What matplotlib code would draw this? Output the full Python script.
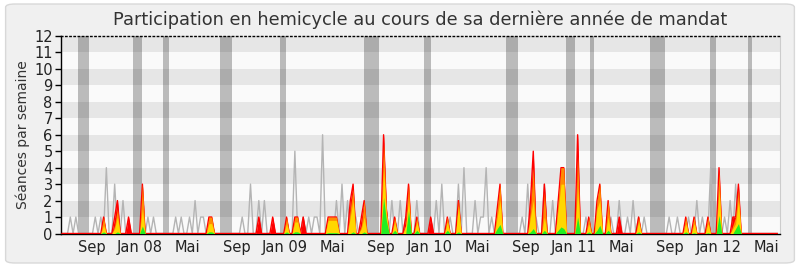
import numpy as np
import matplotlib
matplotlib.use("Agg")
import matplotlib.pyplot as plt
from matplotlib.patches import FancyBboxPatch
import datetime as dt

# ---------------- data ----------------
start_date = dt.date(2007, 6, 18)
n_weeks = 259

# median of all deputies (grey line): week index -> sessions
median_weeks = [3, 5, 12, 14, 16, 19, 22, 31, 33, 41, 43, 46, 48, 50, 51,
                65, 68, 71, 73, 84, 87, 89, 91, 92, 94, 99, 101, 103, 106,
                119, 122, 124, 128, 135, 137, 140, 143, 145, 149, 151, 152, 153, 155,
                166, 168, 171, 174, 177, 189, 191, 198, 201, 204, 206, 208, 210,
                219, 222, 226, 229, 231, 234, 239, 241, 243]
median_vals = [1, 1, 1, 1, 4, 3, 2, 1, 1, 1, 1, 1, 2, 1, 1,
               1, 3, 2, 2, 5, 1, 1, 1, 1, 6, 2, 3, 2, 1,
               2, 2, 1, 2, 2, 3, 1, 3, 4, 2, 1, 1, 4, 1,
               1, 3, 1, 3, 2, 1, 1, 1, 2, 1, 2, 1, 1,
               1, 1, 1, 2, 1, 4, 1, 2, 3]

# deputy activity per week
act_weeks = [15, 19, 20, 24, 29, 53, 54, 71, 76, 81, 84, 85, 87,
             96, 97, 98, 99, 104, 105, 108, 109, 116, 117, 120, 124, 125, 128,
             133, 139, 143, 157, 158, 169, 170, 174, 179, 180, 181, 186, 190,
             193, 194, 197, 201, 208, 225, 228, 233, 237, 242, 243, 244]
presence = [1, 1, 2, 1, 3, 1, 1, 1, 1, 1, 1, 1, 1,
            1, 1, 1, 1, 2, 3, 1, 2, 6, 1.5, 1, 1, 3, 1,
            1, 1, 2, 1.5, 3, 2, 5, 3, 2, 4, 4, 6, 1,
            2, 3, 2, 1, 1, 1, 1, 1, 4, 1, 1, 3]
participation = [1, 0.5, 1.5, 0, 3, 1, 1, 0, 0, 1, 1, 1, 0,
                 1, 1, 1, 1, 1.5, 2.7, 0.5, 2, 5.5, 1.5, 1, 0.5, 3, 1,
                 0, 1, 2, 1.5, 3, 1.5, 4, 2.5, 2, 4, 4, 4.7, 1,
                 2, 3, 2, 0, 1, 1, 1, 1, 3.8, 0.5, 1, 2.7]
interventions = [0.5, 0.3, 1, 0, 1.5, 0.6, 0.6, 0, 0, 0.6, 0.7, 0.7, 0,
                 0.8, 0.8, 0.8, 0.8, 1, 2, 0.3, 1, 4, 1.2, 0.7, 0.5, 2, 0.7,
                 0, 0.7, 1.7, 1, 2, 1, 2, 1, 1.5, 3, 3, 2.8, 0.6,
                 1.5, 2, 1, 0, 0.7, 0.6, 0.6, 0.6, 2.7, 0.3, 0.6, 2]
questions = [0.1, 0, 0.1, 0, 0.45, 0.1, 0.1, 0, 0, 0.1, 0.1, 0.1, 0,
             0.05, 0.05, 0.05, 0.05, 0, 0.1, 0, 0.1, 2.2, 0.8, 0.2, 0, 1.4, 0.2,
             0, 0.2, 0.1, 0.3, 0.55, 0.1, 0.3, 0.2, 0.2, 0.4, 0.3, 1.0, 0.1,
             0.2, 0.5, 0.2, 0, 0.1, 0.1, 0.05, 0.05, 1.1, 0, 0.3, 0.6]

# parliamentary breaks (week ranges)
break_start = [5.8, 25.6, 36.4, 57.0, 78.6, 108.9, 130.6, 160.2, 181.8, 190.5, 212.0, 233.8, 247.5]
break_end   = [9.7, 28.9, 38.6, 61.3, 80.8, 114.4, 133.1, 164.5, 185.0, 192.0, 217.5, 236.0, 249.0]

tick_dates = [dt.date(2007, 9, 1), dt.date(2008, 1, 1), dt.date(2008, 5, 1),
              dt.date(2008, 9, 1), dt.date(2009, 1, 1), dt.date(2009, 5, 1),
              dt.date(2009, 9, 1), dt.date(2010, 1, 1), dt.date(2010, 5, 1),
              dt.date(2010, 9, 1), dt.date(2011, 1, 1), dt.date(2011, 5, 1),
              dt.date(2011, 9, 1), dt.date(2012, 1, 1), dt.date(2012, 5, 1)]
tick_labels = ["Sep", "Jan 08", "Mai", "Sep", "Jan 09", "Mai", "Sep", "Jan 10", "Mai",
               "Sep", "Jan 11", "Mai", "Sep", "Jan 12", "Mai"]

title = "Participation en hemicycle au cours de sa dernière année de mandat"
ylabel = "Séances par semaine"

# ---------------- build series ----------------
x = np.arange(n_weeks)
def series(weeks, vals):
    s = np.zeros(n_weeks)
    s[np.array(weeks)] = vals
    return s

med = series(median_weeks, median_vals)
red = series(act_weeks, presence)
ora = series(act_weeks, participation)
yel = series(act_weeks, interventions)
grn = series(act_weeks, questions)

# ---------------- figure ----------------
fig = plt.figure(figsize=(8, 2.67), dpi=100)
fig.patch.set_facecolor("white")
bg = FancyBboxPatch((0.007, 0.015), 0.986, 0.97, boxstyle="round,pad=0,rounding_size=0.012",
                    transform=fig.transFigure, facecolor="#f0f0f0", edgecolor="#d8d8d8",
                    linewidth=1, zorder=-10)
fig.patches.append(bg)

ax = fig.add_axes([61 / 800, 1 - 233.5 / 267, (780 - 61) / 800, (233.5 - 36) / 267])
ax.set_facecolor("#fafafa")
for lo in range(1, 12, 2):
    ax.axhspan(lo, lo + 1, color="#e6e6e6", lw=0, zorder=0)

for s, e in zip(break_start, break_end):
    ax.axvspan(s, e, color="black", alpha=0.25, lw=0, zorder=1)

ax.plot(x, med, color="#b4b4b4", lw=1, zorder=2)

ax.fill_between(x, 0, red, color="#ff0000", lw=0, zorder=3)
ax.plot(x, red, color="#ff0000", lw=1, zorder=3)
ax.fill_between(x, 0, ora, color="#ff8c00", lw=0, zorder=4)
ax.fill_between(x, 0, yel, color="#ffd700", lw=0, zorder=5)
ax.fill_between(x, 0, grn, color="#22ee22", lw=0, zorder=6)

ax.set_xlim(-0.36, 259.0)
ax.set_ylim(0, 12)
ax.set_yticks(range(0, 13))
ax.tick_params(axis="y", direction="out", length=4, width=1, labelsize=10.5,
               colors="black", labelcolor="#222222", pad=2)
tick_pos = [(d - start_date).days / 7 for d in tick_dates]
ax.set_xticks(tick_pos)
ax.set_xticklabels(tick_labels)
ax.tick_params(axis="x", length=0, labelsize=10.5, labelcolor="#222222", pad=5)

for sp in ["left", "bottom"]:
    ax.spines[sp].set_color("black")
    ax.spines[sp].set_linewidth(1)
ax.spines["top"].set_linestyle((0, (1, 2)))
ax.spines["top"].set_color("black")
ax.spines["top"].set_linewidth(1)
ax.spines["right"].set_color("#cccccc")
ax.spines["right"].set_linewidth(0.8)

ax.set_ylabel(ylabel, fontsize=10, color="#333333", labelpad=3)
fig.text(420 / 800, 1 - 20 / 267, title, ha="center", va="center", fontsize=12.8, color="#333333")

fig.savefig("out.png", dpi=100, facecolor=fig.get_facecolor())
